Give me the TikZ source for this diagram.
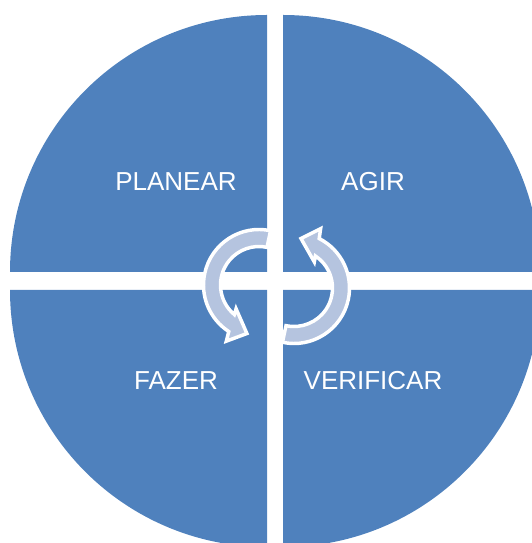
\documentclass[tikz,border=0pt]{standalone}
\usepackage{fontspec}
\setmainfont{Liberation Sans}
\definecolor{quad}{HTML}{4F81BD}
\definecolor{arrowfill}{RGB}{181,196,223}
\begin{document}
\begin{tikzpicture}[x=0.75pt,y=0.75pt,
  quadrant/.style={fill=quad,draw=none},
  cyclearrow/.style={fill=arrowfill,draw=white,line width=2.6pt,line join=miter},
  label/.style={text=white,font=\fontsize{19.5pt}{22pt}\selectfont,inner sep=0pt,anchor=center}]
\useasboundingbox (0,0) rectangle (532,543);
\clip (0,0) rectangle (532,543);
% quadrants
\fill[quadrant] (267,271) -- ++(0,257) arc[start angle=90,end angle=180,radius=257] -- cycle;
\fill[quadrant] (283,271) -- ++(257,0) arc[start angle=0,end angle=90,radius=257] -- cycle;
\fill[quadrant] (267,253) -- ++(-257,0) arc[start angle=180,end angle=270,radius=257] -- cycle;
\fill[quadrant] (283,253) -- ++(0,-257) arc[start angle=270,end angle=360,radius=257] -- cycle;
% labels
\node[label] (planear) at (176,361) {PLANEAR};
\node[label] (agir) at (373,361) {AGIR};
\node[label] (fazer) at (176,162) {FAZER};
\node[label] (verificar) at (373,162) {VERIFICAR};
% left circular arrow
\begin{scope}[shift={(259,258)}]
\filldraw[cyclearrow] (78:55.5) arc[start angle=78,end angle=237,radius=55.5]
  -- (239.8:65) -- (256:50) -- (226:33) -- (230.2:38.5)
  arc[start angle=230.2,end angle=78,radius=38.5] -- cycle;
\end{scope}
% right circular arrow
\begin{scope}[shift={(294,255)}]
\filldraw[cyclearrow] (258:55.5) arc[start angle=258,end angle=423,radius=55.5]
  -- (425.8:65) -- (442:50) -- (412:33) -- (416.2:38.5)
  arc[start angle=416.2,end angle=258,radius=38.5] -- cycle;
\end{scope}
\end{tikzpicture}
\end{document}
